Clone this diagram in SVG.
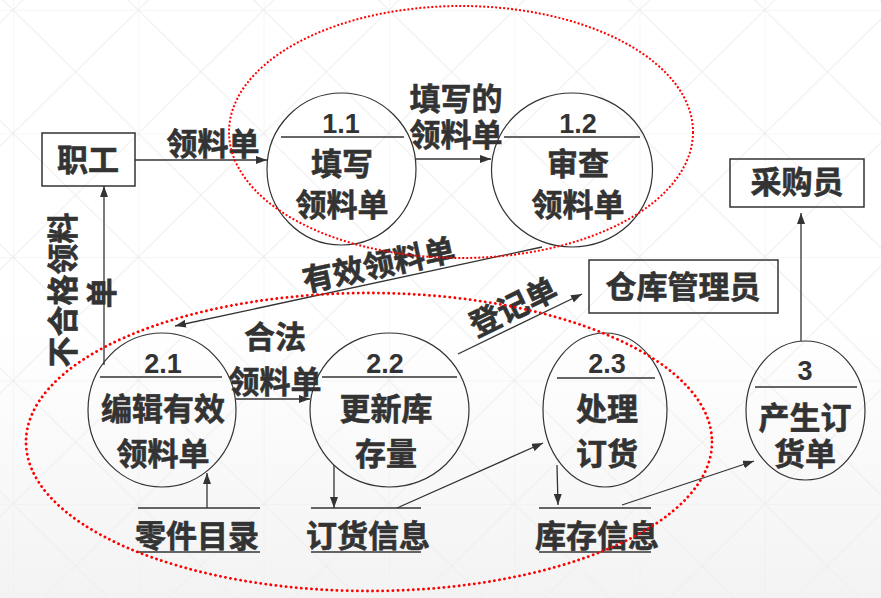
<svg xmlns="http://www.w3.org/2000/svg" width="881" height="598" viewBox="0 0 881 598">
<defs>
<linearGradient id="bg" x1="0" y1="0" x2="0" y2="1">
<stop offset="0.55" stop-color="#ffffff"/>
<stop offset="1" stop-color="#f3f3f3"/>
</linearGradient>
<pattern id="grid" patternUnits="userSpaceOnUse" x="13" y="10" width="125.3" height="123.5">
<path d="M0,0 H125.3 M0,0 V123.5 M0,0 L125.3,123.5 M125.3,0 L0,123.5" stroke="#eeeeee" stroke-width="1" fill="none"/>
</pattern>
<marker id="arr" markerUnits="userSpaceOnUse" markerWidth="11" markerHeight="8" refX="11" refY="4" orient="auto">
<path d="M0,0 L11,4 L0,8 z" fill="#333333"/>
</marker>
<style>
.t{font-family:"Noto Sans CJK SC","Noto Sans",sans-serif;font-weight:bold;font-size:31px;fill:#333333;stroke:#333333;stroke-width:0.6;text-anchor:middle}
.n{font-family:"Liberation Sans","Noto Sans",sans-serif;font-weight:bold;font-size:27px;fill:#333333;text-anchor:middle}
.c{fill:none;stroke:#333333;stroke-width:1.2}
.b{fill:none;stroke:#333333;stroke-width:1.5}
.l{fill:none;stroke:#333333;stroke-width:1.3}
.a{fill:none;stroke:#333333;stroke-width:1.3;marker-end:url(#arr)}
.r1{fill:none;stroke:#ff0000;stroke-width:2;stroke-dasharray:2 2}
.r2{fill:none;stroke:#ff0000;stroke-width:2.8;stroke-dasharray:0.1 5;stroke-linecap:round}
</style>
</defs>
<rect x="0" y="0" width="881" height="598" fill="url(#bg)"/>
<rect x="0" y="0" width="881" height="598" fill="url(#grid)"/>

<g id="connectors">
<line class="a" x1="135" y1="160" x2="267" y2="160"/>
<line class="a" x1="416" y1="159" x2="491" y2="159"/>
<line class="a" x1="542" y1="247" x2="175" y2="326"/>
<line class="a" x1="104" y1="365" x2="104" y2="186"/>
<line class="a" x1="236" y1="399" x2="310" y2="399"/>
<line class="a" x1="458" y1="354" x2="582" y2="294"/>
<line class="a" x1="801" y1="341" x2="801" y2="213"/>
<line class="a" x1="207" y1="508" x2="207" y2="473"/>
<line class="a" x1="334" y1="465" x2="334" y2="508"/>
<line class="a" x1="397" y1="508" x2="543" y2="443"/>
<line class="a" x1="557" y1="465" x2="558" y2="505"/>
<line class="a" x1="622" y1="505" x2="754" y2="461"/>
<text class="t" x="213" y="155">领料单</text>
<text class="t" x="456" y="110">填写的</text>
<text class="t" x="456" y="146">领料单</text>
<text class="t" transform="translate(381,276) rotate(-12)">有效领料单</text>
<text class="t" transform="translate(74,290) rotate(-90)">不合格领料</text>
<text class="t" transform="translate(113,293) rotate(-90)">单</text>
<text class="t" x="275" y="348">合法</text>
<text class="t" x="275" y="393">领料单</text>
<text class="t" transform="translate(518,317) rotate(-26)">登记单</text>
</g>

<g id="worker">
<rect class="b" x="42" y="133" width="93" height="53"/>
<text class="t" x="88" y="171">职工</text>
</g>

<g id="p1_1">
<ellipse class="c" cx="341.5" cy="169" rx="74.5" ry="76"/>
<line class="l" x1="281" y1="137" x2="404" y2="137"/>
<text class="n" x="341" y="133">1.1</text>
<text class="t" x="342" y="175">填写</text>
<text class="t" x="342" y="216">领料单</text>
</g>

<g id="p1_2">
<ellipse class="c" cx="572" cy="170" rx="80.5" ry="77"/>
<line class="l" x1="504" y1="137" x2="640" y2="137"/>
<text class="n" x="578" y="133">1.2</text>
<text class="t" x="578" y="175">审查</text>
<text class="t" x="578" y="216">领料单</text>
</g>

<g id="buyer">
<rect class="b" x="730" y="159" width="134" height="48"/>
<text class="t" x="797" y="193">采购员</text>
</g>

<g id="warehouse">
<rect class="b" x="589" y="260" width="189" height="53"/>
<text class="t" x="683" y="298">仓库管理员</text>
</g>

<g id="p2_1">
<ellipse class="c" cx="162" cy="410" rx="74" ry="77"/>
<line class="l" x1="100" y1="377" x2="222" y2="377"/>
<text class="n" x="163" y="373">2.1</text>
<text class="t" x="163" y="420">编辑有效</text>
<text class="t" x="163" y="465">领料单</text>
</g>

<g id="p2_2">
<ellipse class="c" cx="389.5" cy="410" rx="79.5" ry="77"/>
<line class="l" x1="322" y1="377" x2="457" y2="377"/>
<text class="n" x="385" y="373">2.2</text>
<text class="t" x="386" y="420">更新库</text>
<text class="t" x="386" y="465">存量</text>
</g>

<g id="p2_3">
<ellipse class="c" cx="605" cy="410" rx="62" ry="77"/>
<line class="l" x1="557" y1="378" x2="655" y2="378"/>
<text class="n" x="607" y="373">2.3</text>
<text class="t" x="607" y="420">处理</text>
<text class="t" x="607" y="465">订货</text>
</g>

<g id="p3">
<ellipse class="c" cx="805.5" cy="410.5" rx="59.5" ry="69.5"/>
<line class="l" x1="755" y1="387" x2="857" y2="387"/>
<text class="n" x="805" y="380">3</text>
<text class="t" x="805" y="429">产生订</text>
<text class="t" x="805" y="465">货单</text>
</g>

<g id="ds_parts">
<line class="b" x1="138" y1="508" x2="260" y2="508"/>
<line class="b" x1="138" y1="552" x2="260" y2="552"/>
<text class="t" x="197" y="547">零件目录</text>
</g>

<g id="ds_orders">
<line class="b" x1="311" y1="508" x2="421" y2="508"/>
<line class="b" x1="311" y1="552" x2="421" y2="552"/>
<text class="t" x="368" y="547">订货信息</text>
</g>

<g id="ds_stock">
<line class="b" x1="539" y1="508" x2="651" y2="508"/>
<line class="b" x1="539" y1="552" x2="651" y2="552"/>
<text class="t" x="597" y="547">库存信息</text>
</g>

<g id="groups">
<ellipse class="r1" cx="461" cy="132" rx="232" ry="126"/>
<ellipse class="r2" cx="369" cy="442" rx="343" ry="149"/>
</g>
</svg>
